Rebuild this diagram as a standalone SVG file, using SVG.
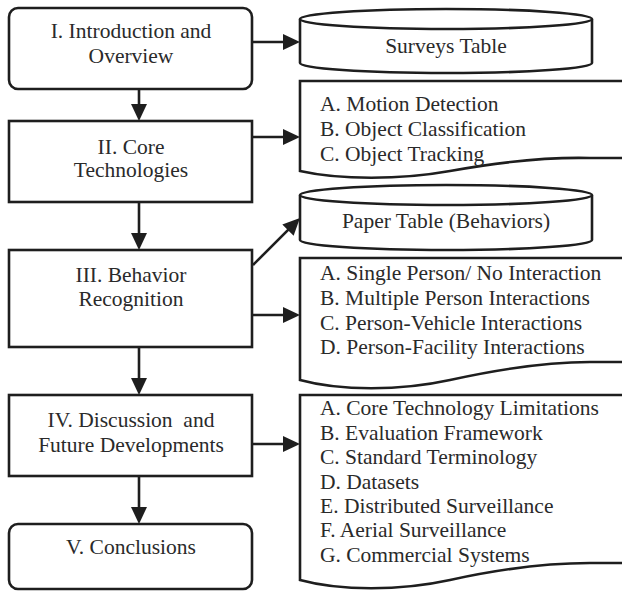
<svg xmlns="http://www.w3.org/2000/svg" width="622" height="605" viewBox="0 0 622 605">
<defs>
<marker id="ah" markerUnits="userSpaceOnUse" markerWidth="17" markerHeight="16" refX="7" refY="8" orient="auto">
<path d="M0,0 L17,8 L0,16 z" fill="#1e1e1e"/>
</marker>
<style>
.box{fill:#fff;stroke:#1e1e1e;stroke-width:2.6}
.ln{fill:none;stroke:#1e1e1e;stroke-width:2.6;marker-end:url(#ah)}
text{font-family:"Liberation Serif","Times New Roman",serif;font-size:21.5px;fill:#2a2a2a;white-space:pre}
.c{text-anchor:middle}
</style>
</defs>
<rect width="622" height="605" fill="#fff"/>
<g id="connectors">
<line class="ln" x1="139" y1="89" x2="139" y2="111"/>
<line class="ln" x1="139" y1="202" x2="139" y2="240"/>
<line class="ln" x1="139" y1="347" x2="139" y2="385"/>
<line class="ln" x1="139" y1="476" x2="139" y2="514"/>
<line class="ln" x1="253" y1="42" x2="290" y2="42"/>
<line class="ln" x1="253" y1="137" x2="290" y2="137"/>
<line class="ln" x1="253" y1="265" x2="292.9" y2="225.1"/>
<line class="ln" x1="253" y1="315" x2="290" y2="315"/>
<line class="ln" x1="253" y1="444" x2="290" y2="444"/>
</g>
<g id="n1">
<rect class="box" x="9" y="8" width="243" height="81" rx="9"/>
<text class="c" x="131" y="38">I. Introduction and</text>
<text class="c" x="131" y="63">Overview</text>
</g>
<g id="n2">
<rect class="box" x="9" y="121" width="243" height="81"/>
<text class="c" x="131" y="154">II. Core</text>
<text class="c" x="131" y="177">Technologies</text>
</g>
<g id="n3">
<rect class="box" x="9" y="250" width="243" height="97"/>
<text class="c" x="131" y="282">III. Behavior</text>
<text class="c" x="131" y="305.5">Recognition</text>
</g>
<g id="n4">
<rect class="box" x="9" y="395" width="243" height="81"/>
<text class="c" x="131" y="427">IV. Discussion  and</text>
<text class="c" x="131" y="451.5">Future Developments</text>
</g>
<g id="n5">
<rect class="box" x="9" y="524" width="243" height="65" rx="9"/>
<text class="c" x="131" y="554">V. Conclusions</text>
</g>
<g id="surveys">
<path class="box" d="M300,19 L300,63 A146,10 0 0 0 592,63 L592,19"/>
<ellipse class="box" cx="446" cy="19" rx="146" ry="10"/>
<text class="c" x="446" y="53">Surveys Table</text>
</g>
<g id="coretech">
<path class="box" d="M626,81 L300,81 L300,171 C340,180 400,180 450,171 S550,157 590,158 L626,158"/>
<text x="320" y="111">A. Motion Detection</text>
<text x="320" y="136">B. Object Classification</text>
<text x="320" y="161">C. Object Tracking</text>
</g>
<g id="papertable">
<path class="box" d="M300,195 L300,240 A146,10 0 0 0 592,240 L592,195"/>
<ellipse class="box" cx="446" cy="195" rx="146" ry="10"/>
<text class="c" x="446" y="228">Paper Table (Behaviors)</text>
</g>
<g id="behaviors">
<path class="box" d="M626,258 L300,258 L300,380 C340,391 400,391 450,380 S550,362 590,362 L626,362"/>
<text x="320" y="280">A. Single Person/ No Interaction</text>
<text x="320" y="305">B. Multiple Person Interactions</text>
<text x="320" y="329.5">C. Person-Vehicle Interactions</text>
<text x="320" y="353.5">D. Person-Facility Interactions</text>
</g>
<g id="discussion">
<path class="box" d="M626,395 L300,395 L300,580 C340,591 400,591 450,580 S550,563 590,563 L626,563"/>
<text x="320" y="415">A. Core Technology Limitations</text>
<text x="320" y="439.5">B. Evaluation Framework</text>
<text x="320" y="464">C. Standard Terminology</text>
<text x="320" y="488.5">D. Datasets</text>
<text x="320" y="513">E. Distributed Surveillance</text>
<text x="320" y="537">F. Aerial Surveillance</text>
<text x="320" y="561.5">G. Commercial Systems</text>
</g>
</svg>
